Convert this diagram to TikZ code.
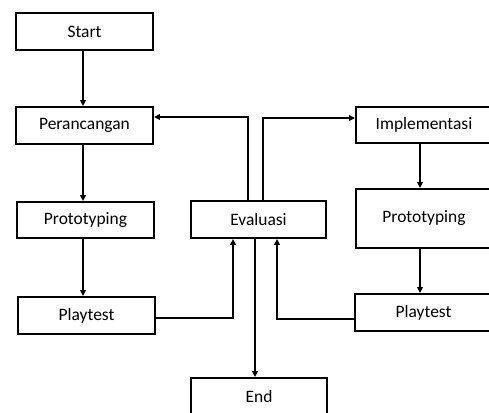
\documentclass[tikz,border=0pt]{standalone}
\usepackage{fontspec}
\setmainfont{Carlito}
\usetikzlibrary{arrows.meta}
\begin{document}
\begin{tikzpicture}[x=1bp,y=-1bp,
  box/.style={draw=black,line width=1.8bp,inner sep=0pt,minimum width=137bp,minimum height=37bp,
    font=\fontsize{17.5}{20}\selectfont},
  arr/.style={draw=black,line width=1.8bp,-{Triangle[length=6bp,width=5.5bp]}}]
\useasboundingbox (0,0) rectangle (489,412);
\clip (0,0) rectangle (489,412);
\node[box] (start) at (84.5,31.5) {Start};
\node[box] (per) at (84.5,125.5) {Perancangan};
\node[box,minimum height=36bp] (protoL) at (85.5,220) {Prototyping};
\node[box] (playL) at (86.5,315.5) {Playtest};
\node[box,minimum width=135bp] (eval) at (258.5,219.5) {Evaluasi};
\node[box,minimum width=136bp,minimum height=36bp] (end) at (259,396) {End};
\node[box,minimum width=136bp,minimum height=36bp] (impl) at (424,125) {Implementasi};
\node[box,minimum width=136bp,minimum height=59bp] (protoR) at (424,218.5) {\raisebox{3.5bp}{Prototyping}};
\node[box] (playR) at (423.5,312.5) {Playtest};
% left column
\draw[arr] ([xshift=-1.5bp]start.south) -- ([xshift=-1.5bp]start.south |- per.north);
\draw[arr] ([xshift=-1.5bp]per.south) -- ([xshift=-1.5bp]per.south |- protoL.north);
\draw[arr] ([xshift=-2.5bp]protoL.south) -- ([xshift=-2.5bp]protoL.south |- playL.north);
% right column
\draw[arr] ([xshift=-4bp]impl.south) -- ([xshift=-4bp]impl.south |- protoR.north);
\draw[arr] ([xshift=-4bp]protoR.south) -- ([xshift=-4bp]protoR.south |- playR.north);
% feedback to evaluasi
\draw[arr] ([yshift=-2.5bp]playL.east) -| ([xshift=-25.5bp]eval.south);
\draw[arr] ([yshift=-6.5bp]playR.west) -| ([xshift=18.5bp]eval.south);
% evaluasi outputs
\draw[arr] ([xshift=-10.5bp]eval.north) |- ([yshift=8.5bp]per.east);
\draw[arr] ([xshift=4.5bp]eval.north) |- ([yshift=7bp]impl.west);
\draw[arr] ([xshift=-3.5bp]eval.south) -- ([xshift=-3.5bp]eval.south |- end.north);
\end{tikzpicture}
\end{document}
